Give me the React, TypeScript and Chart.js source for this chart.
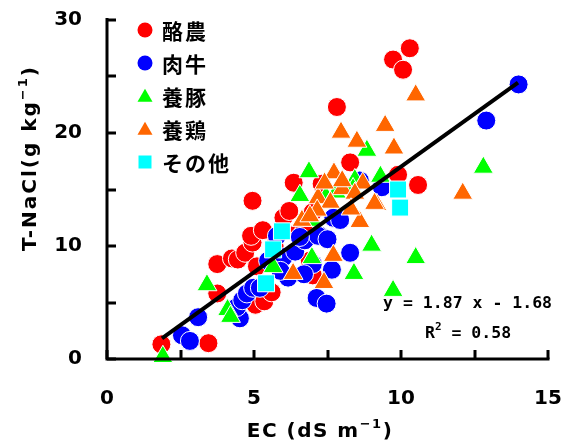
import React, { useEffect, useRef } from 'react';
import { Chart, registerables } from 'chart.js';

Chart.register(...registerables);

const FONT = '"Noto Sans CJK JP", "Noto Sans", sans-serif';
const LATIN = '"DejaVu Sans", "Noto Sans CJK JP", sans-serif';
const MONO = '"DejaVu Sans Mono", "Liberation Mono", monospace';

// ---- data ----
const seriesNames = ['酪農', '肉牛', '養豚', '養鶏', 'その他'];
const seriesColors = ['#ff0000', '#0000ff', '#00ff00', '#ff6600', '#00ffff'];
const seriesStyles = ['circle', 'circle', 'triangle', 'triangle', 'rect'];

const dairyX = [1.85, 3.45, 3.75, 3.75, 4.25, 4.45, 4.7, 4.95, 4.9, 5.3, 4.95, 5.05, 5.35, 5.6, 5.1, 5.8, 5.7, 6.0, 6.2, 6.5, 6.7, 6.35, 7.0, 7.0, 6.9, 7.3, 7.82, 8.27, 9.9, 10.58, 10.3, 9.73, 10.07];
const dairyY = [1.3, 1.4, 8.4, 5.8, 8.9, 8.8, 9.4, 10.3, 10.9, 11.4, 14.0, 4.8, 5.1, 5.9, 8.2, 8.3, 10.0, 12.5, 13.1, 11.2, 11.3, 15.6, 13.0, 7.4, 8.7, 15.5, 22.3, 17.4, 16.3, 15.4, 27.5, 26.5, 25.6];

const beefX = [14.0, 12.9, 7.13, 7.47, 8.27, 7.65, 7.24, 7.7, 3.1, 2.55, 2.82, 4.52, 4.42, 4.6, 4.76, 4.97, 5.2, 5.78, 5.48, 6.16, 6.0, 6.4, 6.73, 7.18, 7.0, 5.9, 6.7, 7.93, 7.5, 9.35, 8.6, 6.56];
const beefY = [24.3, 21.1, 5.4, 4.9, 9.4, 7.9, 10.9, 12.5, 3.7, 2.1, 1.6, 3.6, 4.6, 5.2, 5.8, 6.3, 6.3, 10.9, 8.7, 7.2, 9.0, 9.5, 10.5, 10.9, 8.4, 7.8, 7.5, 12.3, 10.6, 15.2, 15.8, 10.8];

const pigX = [1.9, 3.4, 4.1, 4.2, 5.65, 6.97, 6.56, 6.87, 8.84, 12.8, 9.3, 9.0, 10.5, 9.73, 8.4, 8.43, 8.37, 7.45, 7.8, 7.0];
const pigY = [0.2, 6.55, 4.35, 3.75, 8.15, 8.95, 14.45, 16.55, 18.45, 16.95, 16.15, 10.05, 8.95, 6.05, 7.55, 15.85, 15.05, 14.35, 14.75, 12.25];

const poultryX = [10.5, 7.96, 8.5, 9.46, 9.76, 7.72, 8.7, 12.1, 7.38, 7.7, 8.6, 9.18, 7.18, 7.6, 8.0, 6.63, 7.15, 6.33, 8.43, 9.1, 8.0, 7.4, 6.9, 8.3];
const poultryY = [23.35, 20.05, 19.25, 20.65, 18.65, 16.45, 15.55, 14.65, 6.75, 9.15, 12.15, 13.65, 14.25, 13.85, 15.05, 12.25, 13.15, 7.55, 14.65, 13.75, 15.75, 15.55, 12.65, 13.25];

const otherX = [5.95, 5.65, 5.41, 9.9, 9.97];
const otherY = [11.3, 9.7, 6.7, 15.0, 13.4];

const regSlope = 1.87;
const regIntercept = -1.68;
const regXRange = [1.87, 13.98];

const xTickValues = [0, 2.5, 5, 7.5, 10, 12.5, 15];
const yTickValues = [0, 5, 10, 15, 20, 25, 30];
const xLabelValues = [0, 5, 10, 15];
const yLabelValues = [0, 10, 20, 30];

const eqText = 'y = 1.87 x - 1.68';
const r2Label = 'R';
const r2Sup = '2';
const r2Value = ' = 0.58';

// ---- helpers ----
function drawMarker(ctx: CanvasRenderingContext2D, style: string, x: number, y: number, r: number, color: string) {
  ctx.save();
  ctx.fillStyle = color;
  ctx.beginPath();
  if (style === 'circle') {
    ctx.arc(x, y, r, 0, Math.PI * 2);
  } else if (style === 'triangle') {
    const h = r * 1.732;
    ctx.moveTo(x, y - h * 0.55);
    ctx.lineTo(x + r, y + h * 0.45);
    ctx.lineTo(x - r, y + h * 0.45);
    ctx.closePath();
  } else {
    ctx.rect(x - r, y - r, 2 * r, 2 * r);
  }
  ctx.fill();
  ctx.restore();
}

function setSpacing(ctx: CanvasRenderingContext2D, px: number) {
  try { (ctx as any).letterSpacing = `${px}px`; } catch (e) { /* ignore */ }
}

type Part = { t: string; sup?: boolean };
function richWidth(ctx: CanvasRenderingContext2D, parts: Part[], family: string, size: number, supSize: number, sp: number) {
  let w = 0;
  setSpacing(ctx, sp);
  for (const p of parts) {
    ctx.font = `bold ${p.sup ? supSize : size}px ${family}`;
    w += ctx.measureText(p.t).width;
  }
  setSpacing(ctx, 0);
  return w;
}
function drawRich(ctx: CanvasRenderingContext2D, parts: Part[], x: number, y: number, family: string, size: number, supSize: number, supRise: number, sp: number) {
  let cx = x;
  ctx.textBaseline = 'alphabetic';
  ctx.textAlign = 'left';
  setSpacing(ctx, sp);
  for (const p of parts) {
    ctx.font = `bold ${p.sup ? supSize : size}px ${family}`;
    ctx.fillText(p.t, cx, p.sup ? y - supRise : y);
    cx += ctx.measureText(p.t).width;
  }
  setSpacing(ctx, 0);
}

const overlayPlugin = {
  id: 'overlay',
  afterDatasetsDraw(chart: any) {
    const { ctx, chartArea, scales } = chart;
    const xs = scales.x;
    const ys = scales.y;
    ctx.save();
    ctx.strokeStyle = '#000';
    ctx.lineWidth = 3;
    ctx.lineCap = 'butt';
    ctx.beginPath();
    ctx.moveTo(chartArea.left, chartArea.top - 2);
    ctx.lineTo(chartArea.left, chartArea.bottom + 1.5);
    ctx.moveTo(chartArea.left - 1.5, chartArea.bottom);
    ctx.lineTo(chartArea.right + 1.5, chartArea.bottom);
    ctx.stroke();
    ctx.beginPath();
    for (const v of xTickValues) {
      const px = Math.round(xs.getPixelForValue(v));
      ctx.moveTo(px, chartArea.bottom);
      ctx.lineTo(px, chartArea.bottom - 9);
    }
    for (const v of yTickValues) {
      const py = Math.round(ys.getPixelForValue(v));
      ctx.moveTo(chartArea.left, py);
      ctx.lineTo(chartArea.left + 9, py);
    }
    ctx.stroke();
    ctx.restore();
  },
  afterDraw(chart: any) {
    const { ctx, chartArea } = chart;
    ctx.save();
    ctx.fillStyle = '#000';
    // legend
    const lx = chartArea.left + 38;
    const ly = chartArea.top + 10;
    seriesNames.forEach((name, i) => {
      const y = ly + i * 33;
      const st = seriesStyles[i];
      drawMarker(ctx, st, lx, y, st === 'rect' ? 6.5 : 7.5, seriesColors[i]);
      ctx.fillStyle = '#000';
      ctx.font = `bold 21px ${FONT}`;
      ctx.textAlign = 'left';
      ctx.textBaseline = 'middle';
      setSpacing(ctx, 2);
      ctx.fillText(name, lx + 17, y + 1);
      setSpacing(ctx, 0);
    });
    // equation (right-aligned, monospace)
    setSpacing(ctx, 0);
    ctx.font = `bold 16.5px ${MONO}`;
    ctx.textAlign = 'right';
    ctx.textBaseline = 'alphabetic';
    ctx.fillText(eqText, 552, 308);
    drawRich(ctx, [{ t: r2Label }, { t: r2Sup, sup: true }, { t: r2Value }], 425, 338, MONO, 16.5, 11, 8, 0);
    // x title
    const xParts: Part[] = [{ t: 'EC (dS m' }, { t: '−1', sup: true }, { t: ')' }];
    const xw = richWidth(ctx, xParts, LATIN, 20, 13, 1.5);
    drawRich(ctx, xParts, 320 - xw / 2, 437, LATIN, 20, 13, 9, 1.5);
    // y title
    const yParts: Part[] = [{ t: 'T-NaCl(g kg' }, { t: '−1', sup: true }, { t: ')' }];
    const yw = richWidth(ctx, yParts, LATIN, 20, 13, 2);
    ctx.translate(36, 158);
    ctx.rotate(-Math.PI / 2);
    drawRich(ctx, yParts, -yw / 2, 0, LATIN, 20, 13, 9, 2);
    ctx.restore();
  },
};

function makeSeries(xs: number[], ys: number[]) {
  return xs.map((x, i) => ({ x, y: ys[i] }));
}

export default function App() {
  const ref = useRef<HTMLCanvasElement>(null);
  useEffect(() => {
    if (!ref.current) return;
    const seriesData = [
      makeSeries(dairyX, dairyY),
      makeSeries(beefX, beefY),
      makeSeries(pigX, pigY),
      makeSeries(poultryX, poultryY),
      makeSeries(otherX, otherY),
    ];
    const radii = [9.5, 9.5, 11.5, 11.5, 12];
    const orders = [5, 4, 3, 2, 1];
    const datasets: any[] = seriesNames.map((name, i) => ({
      type: 'scatter',
      label: name,
      data: seriesData[i],
      pointStyle: seriesStyles[i],
      pointRadius: radii[i],
      pointHoverRadius: radii[i],
      backgroundColor: seriesColors[i],
      borderColor: '#ffffff',
      borderWidth: 1,
      order: orders[i],
      clip: false,
    }));
    datasets.push({
      type: 'line',
      label: 'fit',
      data: regXRange.map((x) => ({ x, y: regSlope * x + regIntercept })),
      borderColor: '#000',
      borderWidth: 4,
      pointRadius: 0,
      showLine: true,
      fill: false,
      order: 0,
    });
    const tickFont = { family: LATIN, size: 20, weight: 'bold' };
    const chart = new Chart(ref.current, {
      type: 'scatter',
      data: { datasets },
      options: {
        animation: false,
        responsive: false,
        devicePixelRatio: 1,
        layout: { autoPadding: false, padding: { top: 20, right: 24, left: 0, bottom: 0 } },
        plugins: { legend: { display: false }, tooltip: { enabled: false } },
        scales: {
          x: {
            type: 'linear',
            min: 0,
            max: 15,
            afterFit: (s: any) => { s.height = 84; s.paddingLeft = 0; s.paddingRight = 0; },
            afterBuildTicks: (s: any) => { s.ticks = xLabelValues.map((v) => ({ value: v })); },
            grid: { display: false, drawTicks: false },
            border: { display: false },
            ticks: { color: '#000', padding: 28, font: tickFont, maxRotation: 0 },
          },
          y: {
            type: 'linear',
            min: 0,
            max: 30,
            afterFit: (s: any) => { s.width = 107; s.paddingTop = 0; s.paddingBottom = 0; },
            afterBuildTicks: (s: any) => { s.ticks = yLabelValues.map((v) => ({ value: v })); },
            grid: { display: false, drawTicks: false },
            border: { display: false },
            ticks: { color: '#000', padding: 25, font: tickFont },
          },
        },
      } as any,
      plugins: [overlayPlugin as any],
    });
    return () => chart.destroy();
  }, []);
  return (
    <div style={{ position: 'fixed', left: 0, top: 0, width: 572, height: 443, background: '#fff' }}>
      <canvas ref={ref} width={572} height={443} style={{ width: 572, height: 443, display: 'block' }} />
    </div>
  );
}
